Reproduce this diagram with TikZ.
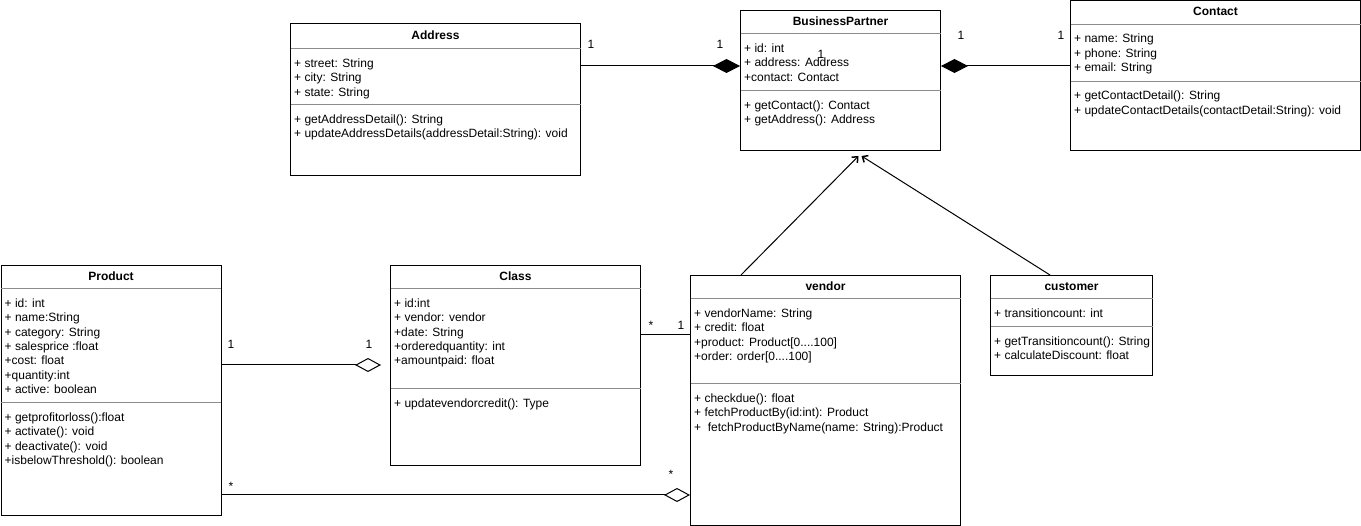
\documentclass[tikz,border=0pt]{standalone}
\usepackage{fontspec}
\setmainfont{Liberation Sans}
\usetikzlibrary{arrows.meta}
\newcommand{\mystrut}{\rule{0pt}{10.08pt}}
\tikzset{
  box/.style={draw=black, line width=1pt, anchor=north west, inner sep=0pt},
  sepline/.style={draw=black!45, line width=1pt},
  ttl/.style={anchor=center, inner sep=0pt, font=\fontsize{12}{14.4}\selectfont\bfseries},
  txt/.style={anchor=north west, inner sep=0pt, align=left, font=\fontsize{12}{14.4}\selectfont},
  lbl/.style={inner sep=0pt, font=\fontsize{12}{14.4}\selectfont},
  conn/.style={draw=black, line width=1pt},
  comp/.style={conn, -{Diamond[length=27pt,width=14pt,fill=black]}},
  aggr/.style={conn, -{Diamond[open,length=26pt,width=14pt,fill=white]}},
  gen/.style={conn, -{Straight Barb[length=4.5pt,width=8pt,line width=1.5pt]}},
}
\begin{document}
\begin{tikzpicture}[x=1pt,y=-1pt]
\useasboundingbox (0,0) rectangle (1361,526);

% ---------- Address ----------
\node[box, minimum width=290pt, minimum height=152pt] (addr) at (290,23) {};
\draw[sepline] ([xshift=0.5pt,yshift=-26pt]addr.north west) -- ([xshift=-0.5pt,yshift=-26pt]addr.north east);
\draw[sepline] ([xshift=0.5pt,yshift=-82pt]addr.north west) -- ([xshift=-0.5pt,yshift=-82pt]addr.north east);
\node[ttl] (addrT) at ([yshift=-12.5pt]addr.north) {Address};
\node[txt] (addrA) at ([xshift=4pt,yshift=-34pt]addr.north west) {\mystrut+ street: String\\+ city: String\\+ state: String};
\node[txt] (addrM) at ([xshift=4pt,yshift=-90pt]addr.north west) {\mystrut+ getAddressDetail(): String\\+ updateAddressDetails(addressDetail:String): void};

% ---------- BusinessPartner ----------
\node[box, minimum width=200pt, minimum height=140pt] (bp) at (740,10) {};
\draw[sepline] ([xshift=0.5pt,yshift=-24pt]bp.north west) -- ([xshift=-0.5pt,yshift=-24pt]bp.north east);
\draw[sepline] ([xshift=0.5pt,yshift=-81pt]bp.north west) -- ([xshift=-0.5pt,yshift=-81pt]bp.north east);
\node[ttl] (bpT) at ([yshift=-11.5pt]bp.north) {BusinessPartner};
\node[txt] (bpA) at ([xshift=4pt,yshift=-32pt]bp.north west) {\mystrut+ id: int\\+ address: Address\\+contact: Contact};
\node[txt] (bpM) at ([xshift=4pt,yshift=-89pt]bp.north west) {\mystrut+ getContact(): Contact\\+ getAddress(): Address};

% ---------- Contact ----------
\node[box, minimum width=290pt, minimum height=150pt] (contact) at (1070,0.5) {};
\draw[sepline] ([xshift=0.5pt,yshift=-24pt]contact.north west) -- ([xshift=-0.5pt,yshift=-24pt]contact.north east);
\draw[sepline] ([xshift=0.5pt,yshift=-81pt]contact.north west) -- ([xshift=-0.5pt,yshift=-81pt]contact.north east);
\node[ttl] (contactT) at ([yshift=-11pt]contact.north) {Contact};
\node[txt] (contactA) at ([xshift=4pt,yshift=-32pt]contact.north west) {\mystrut+ name: String\\+ phone: String\\+ email: String};
\node[txt] (contactM) at ([xshift=4pt,yshift=-89pt]contact.north west) {\mystrut+ getContactDetail(): String\\+ updateContactDetails(contactDetail:String): void};

% ---------- Product ----------
\node[box, minimum width=220pt, minimum height=250pt] (prod) at (0.5,265) {};
\draw[sepline] ([xshift=0.5pt,yshift=-24pt]prod.north west) -- ([xshift=-0.5pt,yshift=-24pt]prod.north east);
\draw[sepline] ([xshift=0.5pt,yshift=-138pt]prod.north west) -- ([xshift=-0.5pt,yshift=-138pt]prod.north east);
\node[ttl] (prodT) at ([yshift=-11.5pt]prod.north) {Product};
\node[txt] (prodA) at ([xshift=4pt,yshift=-32pt]prod.north west) {\mystrut+ id: int\\+ name:String\\+ category: String\\+ salesprice :float\\+cost: float\\+quantity:int\\+ active: boolean};
\node[txt] (prodM) at ([xshift=4pt,yshift=-146pt]prod.north west) {\mystrut+ getprofitorloss():float\\+ activate(): void\\+ deactivate(): void\\+isbelowThreshold(): boolean};

% ---------- Class ----------
\node[box, minimum width=250pt, minimum height=200pt] (cls) at (390,265) {};
\draw[sepline] ([xshift=0.5pt,yshift=-24pt]cls.north west) -- ([xshift=-0.5pt,yshift=-24pt]cls.north east);
\draw[sepline] ([xshift=0.5pt,yshift=-124pt]cls.north west) -- ([xshift=-0.5pt,yshift=-124pt]cls.north east);
\node[ttl] (clsT) at ([yshift=-11.5pt]cls.north) {Class};
\node[txt] (clsA) at ([xshift=4pt,yshift=-32pt]cls.north west) {\mystrut+ id:int\\+ vendor: vendor\\+date: String\\+orderedquantity: int\\+amountpaid: float};
\node[txt] (clsM) at ([xshift=4pt,yshift=-132pt]cls.north west) {\mystrut+ updatevendorcredit(): Type};

% ---------- vendor ----------
\node[box, minimum width=270pt, minimum height=250pt] (vend) at (690,275) {};
\draw[sepline] ([xshift=0.5pt,yshift=-24pt]vend.north west) -- ([xshift=-0.5pt,yshift=-24pt]vend.north east);
\draw[sepline] ([xshift=0.5pt,yshift=-109pt]vend.north west) -- ([xshift=-0.5pt,yshift=-109pt]vend.north east);
\node[ttl] (vendT) at ([yshift=-11.5pt]vend.north) {vendor};
\node[txt] (vendA) at ([xshift=4pt,yshift=-32pt]vend.north west) {\mystrut+ vendorName: String\\+ credit: float\\+product: Product[0....100]\\+order: order[0....100]};
\node[txt] (vendM) at ([xshift=4pt,yshift=-117pt]vend.north west) {\mystrut+ checkdue(): float\\+ fetchProductBy(id:int): Product\\+\ \ fetchProductByName(name: String):Product};

% ---------- customer ----------
\node[box, minimum width=162pt, minimum height=100pt] (cust) at (990,275) {};
\draw[sepline] ([xshift=0.5pt,yshift=-24pt]cust.north west) -- ([xshift=-0.5pt,yshift=-24pt]cust.north east);
\draw[sepline] ([xshift=0.5pt,yshift=-52pt]cust.north west) -- ([xshift=-0.5pt,yshift=-52pt]cust.north east);
\node[ttl] (custT) at ([yshift=-11.5pt]cust.north) {customer};
\node[txt] (custA) at ([xshift=4pt,yshift=-32pt]cust.north west) {\mystrut+ transitioncount: int};
\node[txt] (custM) at ([xshift=4pt,yshift=-60pt]cust.north west) {\mystrut+ getTransitioncount(): String\\+ calculateDiscount: float};

% ---------- connectors ----------
\draw[comp] ([yshift=-43pt]addr.north east) -- ([yshift=-56pt]bp.north west);
\draw[comp] ([yshift=-65.5pt]contact.north west) -- ([yshift=-56pt]bp.north east);
\draw[gen] ([xshift=51pt]vend.north west) -- ([xshift=18pt,yshift=-5pt]bp.south);
\draw[gen] ([xshift=60pt]cust.north west) -- ([xshift=21pt,yshift=-5pt]bp.south);
\draw[aggr] ([yshift=-100pt]prod.north east) -- ([xshift=-9pt,yshift=-100pt]cls.north west);
\draw[conn] ([yshift=-70pt]cls.north east) -- ([yshift=-60pt]vend.north west);
\draw[aggr] ([yshift=-230pt]prod.north east) -- ([yshift=-220pt]vend.north west);

% ---------- multiplicities ----------
\node[lbl] (m1) at (591,44) {1};
\node[lbl] (m2) at (720,44) {1};
\node[lbl] (m3) at (821,54) {1};
\node[lbl] (m4) at (961,35) {1};
\node[lbl] (m5) at (1061,35) {1};
\node[lbl] (m6) at (231,344) {1};
\node[lbl] (m7) at (369,344) {1};
\node[lbl] (m8) at (651,325) {*};
\node[lbl] (m9) at (681,325) {1};
\node[lbl] (m10) at (231,486) {*};
\node[lbl] (m11) at (671,474) {*};
\end{tikzpicture}
\end{document}
